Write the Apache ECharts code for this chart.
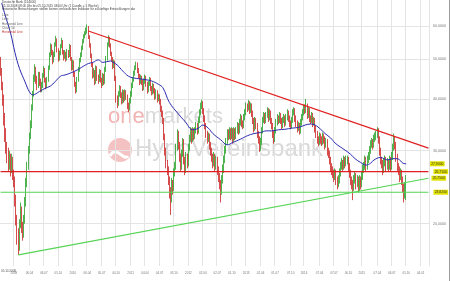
<!DOCTYPE html>
<html><head><meta charset="utf-8">
<script src="https://cdn.jsdelivr.net/npm/echarts@6/dist/echarts.min.js"></script>
<style>html,body{margin:0;padding:0;background:#fff}#c{width:450px;height:281px}</style>
</head><body><div id="c"></div>
<script>
// ---- data ----
const firstWeek = '2008-10-05';
const weekCount = 386;
const tickDates = ['2009-01-02','2009-04-06','2009-07-06','2009-10-05','2010-01-04','2010-04-06','2010-07-05','2010-10-04','2011-01-03','2011-04-04','2011-07-04','2011-10-03','2012-01-02','2012-04-02','2012-07-02','2012-10-01','2013-01-02','2013-04-02','2013-07-01','2013-10-07','2014-01-02','2014-04-07','2014-07-07','2014-10-06','2015-01-02','2015-04-07','2015-07-06','2015-10-05','2016-01-04'];
const tickLabels = ['2009','06.04','06.07','05.10','2010','06.04','05.07','04.10','2011','04.04','04.07','03.10','2012','02.04','02.07','01.10','2013','02.04','01.07','07.10','2014','07.04','07.07','06.10','2015','07.04','06.07','05.10','04.01'];
const yTicks = [20,30,40,50,60];
// weekly candles: [open, close, low, high]
const candles = [
[49.5,46.5,45.5,50.5],[46.5,43,42,47.5],[43,40,38.5,44],[40,35.5,34.5,41],[35.5,33,31.5,37],[33,30.5,29.5,34],
[30.5,29.5,28,31.5],[29.5,27.7,26.8,30.5],[27.7,28.8,27,30],[28.8,27,26,29.5],[27,28.5,26.5,29.5],[28.5,26.5,25.5,29],
[26.5,25.5,24.5,27],[25.5,23,22,26],[23,20.5,19.8,23.5],[20.5,18.5,17.8,21],[18.5,17.5,16.8,19.5],[17.5,19.8,17.2,20.5],
[19.8,21.5,19.5,22.5],[21.5,19.5,19,22],[19.5,18.8,18.2,20.2],[18.8,20.3,18.5,21],[20.3,22.5,20,23.2],[22.5,25,22,25.8],
[25,27.5,24.5,28.2],[27.5,30,27,30.8],[30,32.5,29.5,33.2],[32.5,34.5,32,35.5],[34.5,38,34,38.8],[38,41,37.5,41.8],
[41,45,40.5,45.8],[45,47,44,48.5],[47,44.5,43.5,47.8],[44.5,43,42,45.5],[43,45.5,42.5,46.5],[45.5,44,43,46.5],
[44,42.5,41.5,44.8],[42.5,43,41.5,44],[43,45.5,42.5,46.2],[45.5,47,45,48],[47,44.5,43.8,47.5],[44.5,43,42.2,45],
[43,44.5,42.5,45.2],[44.5,47.5,44,48.2],[47.5,51,47,51.8],[51,53.5,50.5,54.5],[53.5,52,51,54.2],[52,49.5,48.5,52.5],
[49.5,51,49,52],[51,54,50.5,54.8],[54,55.5,53.5,56.8],[55.5,52.5,51.8,56],[52.5,50,49.2,53],[50,51.5,49.5,52.3],
[51.5,53.5,51,54.3],[53.5,55,53,56.2],[55,52,51.2,55.5],[52,50.5,49.5,52.5],[50.5,51.5,50,52.5],[51.5,50,49.2,52],
[50,52,49.5,52.8],[52,51,50.2,52.5],[51,53.5,50.5,54.3],[53.5,50,49.5,54],[50,47.5,46.8,50.5],[47.5,49,47,49.8],
[49,46,45.2,49.5],[46,43.5,42.8,46.5],[43.5,42,41.2,44],[42,44.5,41.5,45.2],[44.5,47,44,47.8],[47,49.5,46.5,50.2],
[49.5,51,49,51.8],[51,53,50.5,53.8],[53,55,52.5,55.8],[55,56.5,54.5,57.3],[56.5,57.5,56,58.3],[57.5,58.5,57,59.5],
[58.5,59,57.5,60.5],[59,56.5,55.8,60],[56.5,54,53.2,57],[54,51,50.2,54.5],[51,48.5,47.8,51.5],[48.5,45.5,44.8,49],
[45.5,46.5,45,47.5],[46.5,44,43.2,47],[44,47.5,43.5,48.2],[47.5,45,44.2,48],[45,44.5,43.5,45.8],[44.5,46.5,44,47.2],
[46.5,44.5,43.8,47],[44.5,43.5,42.5,45],[43.5,45.5,43,46.2],[45.5,44,43.2,46],[44,47,43.5,47.8],[47,50,46.5,50.8],
[50,54,49.5,54.8],[54,56,53.5,57],[56,54,53.2,56.5],[54,51.5,50.8,54.5],[51.5,50,49.2,52],[50,48,47.2,50.5],
[48,49,47.5,49.8],[49,45,44.2,49.5],[45,40,39.2,45.5],[40,39,38,40.8],[39,41,38.5,41.8],[41,42.5,40.5,43.2],
[42.5,41,40.2,43],[41,39.5,38.8,41.5],[39.5,41.5,39,42.2],[41.5,40,39.2,42],[40,41.5,39.5,42.2],[41.5,40.5,39.8,42],
[40.5,38.5,37.8,41],[38.5,38,37.2,39.2],[38,39.5,37.5,40.2],[39.5,41,39,41.8],[41,43,40.5,43.8],[43,44.5,42.5,45.2],
[44.5,46,44,46.8],[46,47.5,45.5,48.2],[47.5,48.5,47,49.2],[48.5,47,46.2,49],[47,45.5,44.8,47.5],[45.5,44,43.2,46],
[44,45,43.5,45.8],[45,44,43.2,45.5],[44,42.5,41.8,44.5],[42.5,44,42,44.8],[44,45,43.5,45.8],[45,43.5,42.8,45.5],
[43.5,42,41.2,44],[42,43.5,41.5,44.2],[43.5,44.5,43,45.2],[44.5,42.5,41.8,45],[42.5,41.5,40.8,43],[41.5,43,41,43.8],
[43,42,41.2,43.5],[42,40.5,39.8,42.5],[40.5,41.5,40,42.2],[41.5,40,39.2,42],[40,40.5,39.5,41.2],[40.5,39.5,38.8,41],
[39.5,38,37.2,40],[38,37,36.2,38.5],[37,35.5,34.8,37.5],[35.5,32.5,31.8,36],[32.5,30,29.2,33],[30,28,27.2,30.5],
[28,27,26.2,28.5],[27,25.5,24.8,27.5],[25.5,24,23,26],[24,23,21,24.5],[23,25,22.5,25.8],[25,24.5,23.5,25.5],
[24.5,26.5,24,27.2],[26.5,27.5,26,28.2],[27.5,30.5,27,31.2],[30.5,33,30,33.8],[33,31,30.2,33.5],[31,29,28.2,31.5],
[29,27.5,26.8,29.5],[27.5,29.5,27,30.2],[29.5,31.5,29,32.2],[31.5,28.5,27.8,32],[28.5,27,26.2,29],[27,29,26.5,29.8],
[29,28,27.2,29.5],[28,30.5,27.5,31.2],[30.5,32,30,32.8],[32,33.5,31.5,34.2],[33.5,32,31.2,34],[32,33.5,31.5,34.2],
[33.5,32.5,31.8,34],[32.5,33.5,32,34.2],[33.5,34.5,33,35.2],[34.5,33.5,32.8,35],[33.5,35.5,33,36.2],[35.5,37,35,37.8],
[37,38.5,36.5,39.2],[38.5,39,37.8,39.8],[39,37.5,36.8,39.5],[37.5,36,35.2,38],[36,34.5,33.8,36.5],[34.5,33,32.2,35],
[33,32,31.2,33.5],[32,32.5,31.5,33.2],[32.5,31,30.2,33],[31,30,29.2,31.5],[30,29,28.2,30.5],[29,28,27.2,29.5],
[28,29,27.5,29.8],[29,27.5,26.8,29.5],[27.5,28.5,27,29.2],[28.5,27,26.2,29],[27,26,25.2,27.5],[26,25,24.2,26.5],
[25,24,22.5,25.5],[24,25.5,23.5,26.2],[25.5,27,25,27.8],[27,28.5,26.5,29.2],[28.5,30,28,30.8],[30,31.5,29.5,32.2],
[31.5,33,31,33.8],[33,32.5,31.8,33.8],[32.5,33.5,32,34.2],[33.5,32.5,31.8,34],[32.5,33.5,32,34.2],[33.5,32,31.2,34],
[32,33.5,31.5,34.2],[33.5,32.5,31.8,34],[32.5,33.5,32,34.2],[33.5,34.5,33,35.2],[34.5,33.5,32.8,35],[33.5,35,33,35.8],
[35,36,34.5,36.8],[36,35,34.2,36.5],[35,34.5,33.8,35.5],[34.5,36,34,36.8],[36,37,35.5,37.8],[37,38.5,36.5,39.2],
[38.5,38,37.2,39],[38,39,37.5,39.8],[39,37.5,36.8,39.5],[37.5,38.5,37,39.2],[38.5,37,36.2,39],[37,35.5,34.8,37.5],
[35.5,34,33.2,36],[34,35.5,33.5,36.2],[35.5,34.5,33.8,36],[34.5,33,32.2,35],[33,32,31.2,33.5],[32,30.5,29.8,32.5],
[30.5,31.5,30,32.2],[31.5,33.5,31,34.2],[33.5,35.5,33,36.2],[35.5,36.5,35,37.2],[36.5,35.5,34.8,37],[35.5,36.5,35,37.2],
[36.5,37.5,36,38.2],[37.5,36,35.2,38],[36,37,35.5,37.8],[37,35.5,34.8,37.5],[35.5,34.5,33.8,36],[34.5,33,32.2,35],
[33,32,31.2,33.5],[32,33.5,31.5,34.2],[33.5,35,33,35.8],[35,36,34.5,36.8],[36,35.5,34.8,36.5],[35.5,36.5,35,37.2],
[36.5,35.5,34.8,37],[35.5,34.5,33.8,36],[34.5,35.5,34,36.2],[35.5,36,35,36.8],[36,35,34.2,36.5],[35,36,34.5,36.8],
[36,37,35.5,37.8],[37,36,35.2,37.5],[36,35,34.2,36.5],[35,34.5,33.8,35.5],[34.5,35.5,34,36.2],[35.5,37,35,37.8],
[37,37.5,36.5,38.2],[37.5,36,35.2,38],[36,35,34.2,36.5],[35,34,33.2,35.5],[34,34.5,33.5,35.2],[34.5,33.5,32.8,35],
[33.5,35,33,35.8],[35,36,34.5,36.8],[36,37,35.5,37.8],[37,38,36.5,38.8],[38,37.5,36.8,38.8],[37.5,38.5,37,40],
[38.5,36.5,35.8,39],[36.5,37.5,36,38.2],[37.5,36,35.2,38],[36,35.5,34.8,36.5],[35.5,36.5,35,37.2],[36.5,35,34.2,37],
[35,35.5,34.5,36.2],[35.5,34,33.2,36],[34,33,32.2,34.5],[33,32,31.2,33.5],[32,31.5,30.8,32.5],[31.5,32.5,31,33.2],
[32.5,32,31.2,33],[32,31.5,30.8,32.5],[31.5,32.5,31,33.2],[32.5,32,31.2,33],[32,31,30.2,32.5],[31,31.5,30.5,32.2],
[31.5,30,29.2,32],[30,29.5,28.8,30.5],[29.5,28.5,27.8,30],[28.5,27.5,26.8,29],[27.5,27,26.2,28],[27,26.5,25.8,27.5],
[26.5,26,25.2,27],[26,26.5,25.5,27.2],[26.5,25.5,24.8,27],[25.5,25,24.2,26],[25,25.5,24.5,26.2],[25.5,26.5,25,27.2],
[26.5,27.5,26,28.2],[27.5,28,27,28.8],[28,27.5,26.8,28.5],[27.5,28.5,27,29.2],[28.5,28,27.2,29],[28,28.5,27.5,29.2],
[28.5,28.6,27.8,29.2],[28.6,27.5,26.8,29],[27.5,26.5,25.8,28],[26.5,25.5,24.8,27],[25.5,25,24.2,26],[25,24.5,22.8,25.5],
[24.5,25.5,24,26.2],[25.5,26,25,26.8],[26,25,24.2,26.5],[25,25.5,24.5,26.2],[25.5,24.5,23.8,26],[24.5,25.5,24,26.2],
[25.5,25,24.2,26],[25,26,24.5,26.8],[26,27,25.5,27.8],[27,27.5,26.5,28.2],[27.5,28.5,27,29.2],[28.5,27.5,26.8,29],
[27.5,28.5,27,29.2],[28.5,29,28,29.8],[29,30,28.5,30.8],[30,31,29.5,31.8],[31,31.5,30.5,32.2],[31.5,31,30.2,32],
[31,32,30.5,32.8],[32,32.5,31.5,33.2],[32.5,32.8,31.8,33.5],[32.8,33.5,32.2,34.2],[33.5,32,31.2,34],[32,30,29.2,32.5],
[30,28.5,27.8,30.5],[28.5,28,27.2,29],[28,27,26.2,28.5],[27,28,26.5,28.8],[28,28.5,27.5,29.2],[28.5,27.5,26.8,29],
[27.5,28,27,28.8],[28,27.5,26.8,28.5],[27.5,28.5,27,29.2],[28.5,27.5,26.8,29],[27.5,29,27,29.8],[29,30.5,28.5,31.2],
[30.5,32,30,33],[32,31,30.2,32.5],[31,29,28.2,31.5],[29,27.5,26.8,29.5],[27.5,27,26.2,28],[27,26,25.2,27.5],
[26,26.5,25.5,27.2],[26.5,25.5,24.8,27],[25.5,24.5,23.8,26],[24.5,23.5,22.5,25],[23.5,24.5,23,25.2],[24.5,25.5,22.8,26.2]
];
// 50-week moving average read at selected weeks
const maWeeks = [1,4,9,13,17,22,26,29,32,35,40,45,49,54,58,63,69,73,79,83,88,92,99,101,105,110,115,119,126,131,136,142,146,152,160,166,173,178,182,187,191,198,204,209,216,222,228,234,239,244,250,256,262,269,274,279,283,288,292,297,301,306,310,315,319,324,329,333,336,342,348,353,357,362,365];
const maValues = [68.2,63.9,57.7,51.7,47.4,44.0,41.6,40.9,41.2,41.7,42.4,43.0,44.0,45.4,45.7,46.2,47.0,47.7,48.7,49.0,49.7,49.0,49.4,49.1,48.3,46.7,45.4,45.0,44.7,44.5,44.2,43.4,42.6,39.2,36.8,35.3,33.7,34.0,34.6,34.0,33.0,31.9,31.0,31.4,32.0,32.6,33.0,33.2,33.5,33.5,33.7,33.8,34.0,34.2,34.6,34.8,34.6,33.8,33.0,32.2,31.3,30.6,30.1,29.4,28.7,28.1,27.7,28.0,28.5,28.9,28.5,28.7,28.7,28.0,27.9];
const redTrendWeeks = [79,385];
const redTrendValues = [58.36,30.43];
const greenTrendWeeks = [16,385];
const greenTrendValues = [16.82,25.75];
const levelWeeks = [0,385];
const redLevel = 26.71;
const greenLevel = 23.82;
const legendLines = ['Deutsche Bank (514000)','05.10.2008 08:00 Uhr bis 05.10.2015 08:00 Uhr (1 Candle = 1 Woche)','Historische Betrachtungen stellen keinen verlässlichen Indikator für zukünftige Entwicklungen dar'];
const legendEntries = ['Linie','Linie','Horizontal Line','Chart: 50','Horizontal Line'];

// ---- build ----
const DAY = 86400000;
const t0 = Date.parse(firstWeek);
const cats = [];
for (let k = 0; k < weekCount; k++) cats.push(new Date(t0 + k * 7 * DAY).toISOString().slice(0, 10));
const labelAt = new Map();
tickDates.forEach((s, j) => labelAt.set(Math.floor((Date.parse(s) - t0) / (7 * DAY)), tickLabels[j]));
const fmt = v => v.toFixed(4).replace('.', ',');
const FONT = 'Liberation Sans, Arial, sans-serif';
const yellow = (txt, dist) => ({show: true, distance: dist, formatter: txt, fontSize: 3.4, fontFamily: FONT, color: '#333', backgroundColor: '#e2e200', padding: [0.6, 1.2, 0.4, 1.2], lineHeight: 4});
const GREEN = '#22a022', RED = '#cc1f1f';
const LINE_RED = '#e02020', LINE_GREEN = '#55d455';

const graphics = [];
// watermark
graphics.push({type: 'text', left: 108, top: 106, z: -10, silent: true,
  style: {text: '{a|one}{b|markets}', font: '22px ' + FONT, rich: {a: {fill: '#f3b3b3', fontSize: 22, fontFamily: FONT}, b: {fill: '#d9d9d9', fontSize: 22, fontFamily: FONT}}}});
graphics.push({type: 'circle', shape: {cx: 120, cy: 150, r: 12}, style: {fill: '#f4c2c2'}, z: -10, silent: true});
graphics.push({type: 'bezierCurve', shape: {x1: 110, y1: 156, x2: 128, y2: 156, cpx1: 116, cpy1: 144, cpx2: 124, cpy2: 162}, style: {stroke: '#fff', lineWidth: 3, fill: null}, z: -9, silent: true});
graphics.push({type: 'text', left: 135, top: 137, z: -10, silent: true, style: {text: 'HypoVereinsbank', font: '24px ' + FONT, fill: '#d9d9d9'}});
// legend text
const legY = [2.2, 5.8, 9.3];
legendLines.forEach((t, k) => graphics.push({type: 'text', x: 2, y: legY[k], z: 100, style: {text: t, font: '3.1px ' + FONT, fill: '#444', verticalAlign: 'middle'}}));
const entY = [15, 19.4, 24.2, 28.4, 32.6];
legendEntries.forEach((t, k) => graphics.push({type: 'text', x: 2, y: entY[k], z: 100, style: {text: t, font: '3.1px ' + FONT, fill: k === 4 ? '#cc3333' : '#666', verticalAlign: 'middle'}}));
graphics.push({type: 'text', x: 1, y: 271, z: 100, style: {text: '05.10.2008', font: '3px ' + FONT, fill: '#555', verticalAlign: 'middle'}});
graphics.push({type: 'line', shape: {x1: 449.5, y1: 0, x2: 449.5, y2: 281}, style: {stroke: '#9a9a9a', lineWidth: 1}, z: 100});

// straight overlay lines drawn as two-point line series
const overlay = (name, color, width, weeks, values, label) => ({
  type: 'line', name, z: 5, silent: true, showSymbol: false, symbol: 'none',
  data: weeks.map((w, k) => [cats[w], values[k]]),
  itemStyle: {color}, lineStyle: {color, width, type: 'solid'},
  emphasis: {disabled: true},
  endLabel: label || {show: false}
});

const chart = echarts.init(document.getElementById('c'), null, {renderer: 'canvas'});
chart.setOption({
  animation: false,
  backgroundColor: '#fff',
  grid: {left: 0, right: 21, top: 0, bottom: 15, containLabel: false},
  xAxis: {
    type: 'category', data: cats, boundaryGap: true,
    axisLine: {show: false, onZero: false}, axisTick: {show: false},
    axisLabel: {interval: (i) => labelAt.has(i), formatter: (v, i) => labelAt.get(i) || '', fontSize: 3, fontFamily: FONT, color: '#777', margin: 6},
    splitLine: {show: true, interval: (i) => labelAt.has(i), lineStyle: {color: '#e4e4e4', width: 1}}
  },
  yAxis: {
    type: 'log', logBase: 10, min: 15.81, max: 69.32, position: 'right',
    axisLine: {show: false}, axisTick: {show: false, customValues: yTicks},
    axisLabel: {customValues: yTicks, formatter: v => fmt(v), fontSize: 3.6, fontFamily: FONT, color: '#777', margin: 4},
    splitLine: {show: true, lineStyle: {color: '#e4e4e4', width: 1}}
  },
  graphic: graphics,
  series: [
    {
      type: 'candlestick', data: candles, barWidth: 1, z: 3,
      itemStyle: {color: GREEN, color0: RED, borderColor: GREEN, borderColor0: RED, borderWidth: 0.8}
    },
    overlay('redLevel', LINE_RED, 1.3, levelWeeks, [redLevel, redLevel], yellow(fmt(redLevel), 5)),
    overlay('greenLevel', LINE_GREEN, 1.2, levelWeeks, [greenLevel, greenLevel], yellow(fmt(greenLevel), 5)),
    overlay('redTrend', LINE_RED, 1.2, redTrendWeeks, redTrendValues, null),
    overlay('greenTrend', LINE_GREEN, 1.2, greenTrendWeeks, greenTrendValues, yellow(fmt(greenTrendValues[1]), 3)),
    {
      type: 'line', data: maWeeks.map((w, k) => [cats[w], maValues[k]]), smooth: 0.4, showSymbol: false, z: 4,
      itemStyle: {color: '#2b2bb0'}, lineStyle: {color: '#2b2bb0', width: 1},
      emphasis: {disabled: true},
      markPoint: {
        symbol: 'rect', symbolSize: 0.01, silent: true, animation: false,
        data: [{coord: [cats[weekCount - 1], maValues[maValues.length - 1]], label: Object.assign(yellow(fmt(maValues[maValues.length - 1]), 1.5), {position: 'right'})}]
      }
    }
  ]
});
</script>
</body></html>
